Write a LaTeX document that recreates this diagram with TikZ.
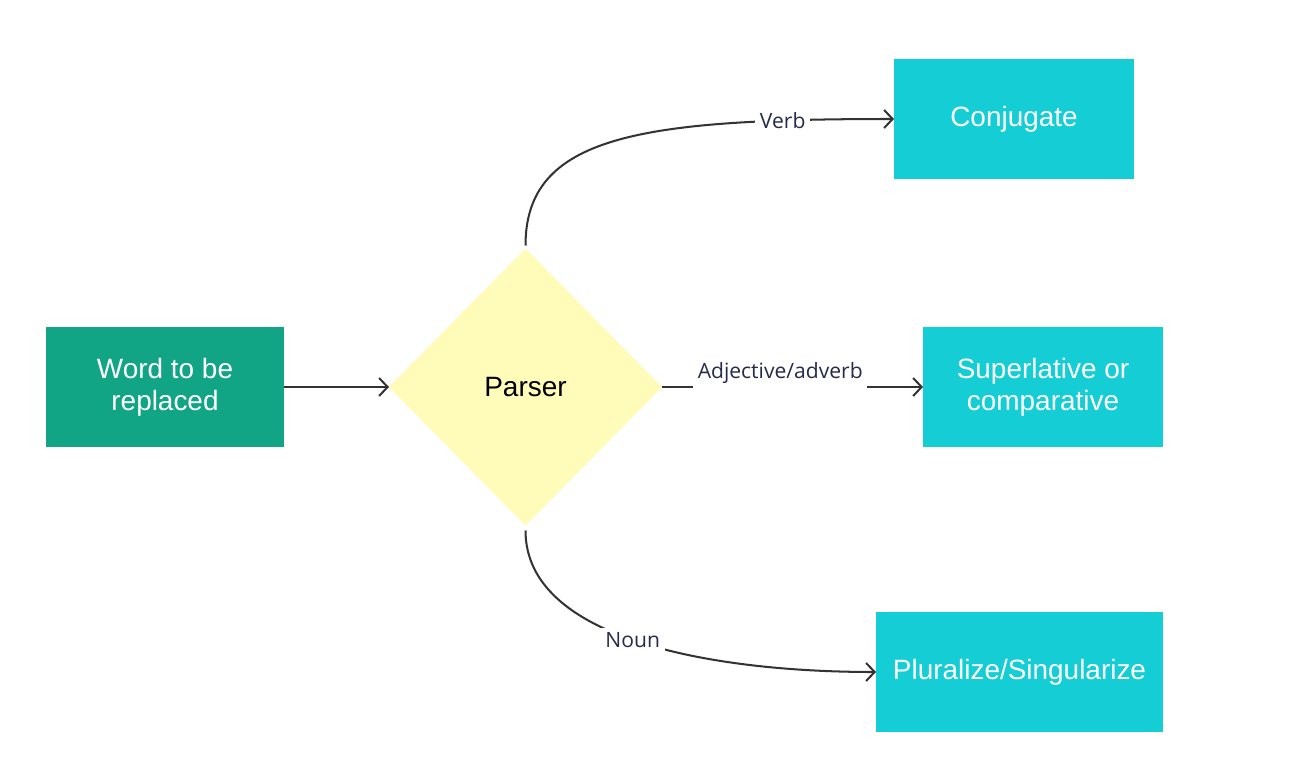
\documentclass[tikz,border=0pt]{standalone}
\usepackage{fontspec}
\setmainfont{Liberation Sans}
\newfontfamily\lblfont{Open Sans}
\usepackage{tikz}
\usetikzlibrary{
  positioning, arrows.meta, shapes.geometric
}
\definecolor{wordGreen}{HTML}{12A585}
\definecolor{stepCyan}{HTML}{15CED5}
\definecolor{parserYellow}{HTML}{FFFBB8}
\definecolor{lineInk}{HTML}{333333}
\definecolor{lblInk}{HTML}{262B4A}
\tikzset{
  boxtext/.style={font=\fontsize{15.9}{18.2}\selectfont, align=center},
  srcbox/.style={rectangle, fill=wordGreen, text=white, boxtext,
    minimum width=4.76cm, minimum height=2.4cm, inner sep=0pt, outer sep=0pt},
  opbox/.style={rectangle, fill=stepCyan, text=white, boxtext,
    minimum width=4.8cm, minimum height=2.4cm, inner sep=0pt, outer sep=0pt},
  parserdia/.style={diamond, fill=parserYellow, text=black, boxtext,
    minimum width=5.46cm, minimum height=5.54cm, inner sep=0pt, outer sep=0pt},
  flow/.style={-{Straight Barb[length=1.7mm, width=3.6mm, line width=1.15pt]},
    line width=1.15pt, lineInk},
  edgelbl/.style={font=\lblfont\fontsize{12}{14}\selectfont, text=lblInk,
    fill=white, inner sep=2.6pt},
}
\begin{document}
\begin{tikzpicture}[node distance=2.1cm]
    \useasboundingbox[fill=white] (0,0) rectangle (25.9,-15.42);
    \node[srcbox] (word) at (3.30,-7.74) {Word to be\\replaced};
    \node[parserdia, right=2.1cm of word] (parser) {Parser};
    \node[opbox, right=5.22cm of parser] (superl) {Superlative or\\comparative};
    \node[opbox] (conj) at (20.28,-2.38) {Conjugate};
    \node[opbox, minimum width=5.74cm] (plural) at (20.39,-13.44)
      {Pluralize/Singularize};
    \draw[flow] (word) -- (parser);
    \draw[flow] ([yshift=0.06cm]parser.north)
      .. controls +(0,2.2) and +(-5.08,0) .. (conj.west)
      node[edgelbl, pos=0.84] (verblbl) {Verb};
    \draw[flow] (parser.east) -- (superl.west)
      node[edgelbl, pos=0.453, anchor=base, yshift=0.18cm] (adjlbl)
      {Adjective/adverb};
    \draw[flow] ([yshift=-0.1cm]parser.south)
      .. controls +(0,-2.2) and +(-3.2,0) .. (plural.west)
      node[edgelbl, pos=0.48] (nounlbl) {Noun};
  \end{tikzpicture}
\end{document}
